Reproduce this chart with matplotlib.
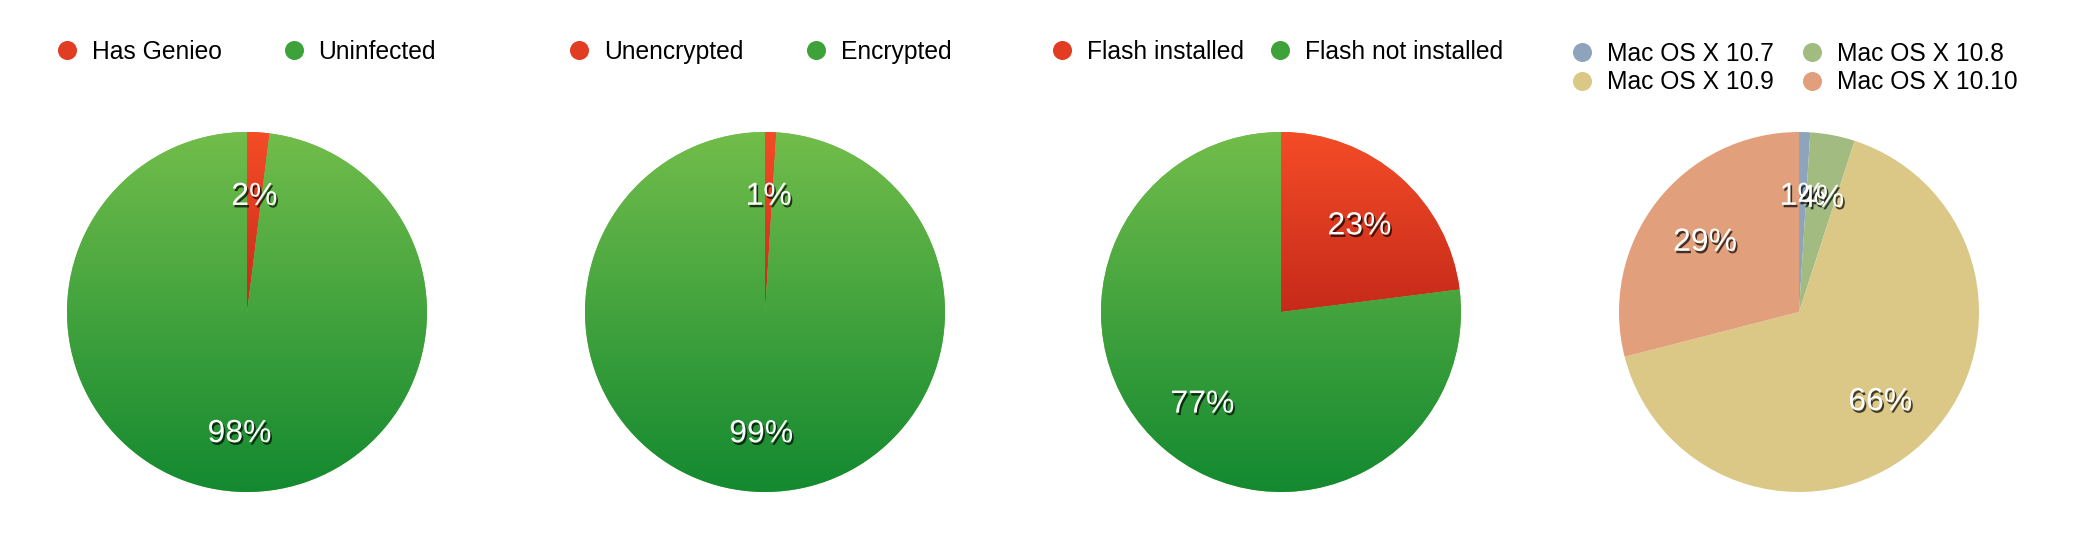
import matplotlib
matplotlib.use("Agg")
import matplotlib.pyplot as plt
import matplotlib.patheffects as pe
from matplotlib.colors import LinearSegmentedColormap
from matplotlib.lines import Line2D
import numpy as np

plt.rcParams['font.family'] = ['Liberation Sans', 'DejaVu Sans']

# data
genieo_labels = ["Has Genieo", "Uninfected"]
genieo_values = [2, 98]
encrypt_labels = ["Unencrypted", "Encrypted"]
encrypt_values = [1, 99]
flash_labels = ["Flash installed", "Flash not installed"]
flash_values = [23, 77]
os_labels = ["Mac OS X 10.7", "Mac OS X 10.8", "Mac OS X 10.9", "Mac OS X 10.10"]
os_values = [1, 4, 66, 29]

# styles
red_grad = ("#f44c27", "#c62a1a")     # top, bottom
green_grad = ("#72bd4b", "#138930")
red_mid, green_mid = "#e23c22", "#3ea23a"
os_colors = ["#8ea4bd", "#a1bb80", "#dbc887", "#e1a07b"]

W, H = 2074, 552
fig = plt.figure(figsize=(W / 100, H / 100), dpi=100)

centers_x = [247, 765, 1281, 1799]
center_y = 312
radius_px = 180
legend_x = [55, 567, 1050, 1570]
col_spacing = [2.4, 2.45, 0.95, 1.05]

charts = [
    (genieo_labels, genieo_values, [red_grad, green_grad]),
    (encrypt_labels, encrypt_values, [red_grad, green_grad]),
    (flash_labels, flash_values, [red_grad, green_grad]),
    (os_labels, os_values, None),
]

shadow = [pe.SimplePatchShadow(offset=(1.2, -1.8), shadow_rgbFace='black', alpha=0.7),
          pe.Normal()]

for i, (labels, values, grads) in enumerate(charts):
    cx = centers_x[i]
    ax = fig.add_axes([(cx - radius_px) / W, (H - center_y - radius_px) / H,
                       2 * radius_px / W, 2 * radius_px / H])
    base = [g[0] for g in grads] if grads else os_colors
    wedges, texts, autotexts = ax.pie(values, colors=base, startangle=90, counterclock=False,
                                      autopct=lambda p: f'{p:.0f}%', pctdistance=0.66,
                                      wedgeprops=dict(linewidth=0))
    if grads:
        for w, (top, bot) in zip(wedges, grads):
            v = w.get_path().vertices
            ymin, ymax = v[:, 1].min(), v[:, 1].max()
            cmap = LinearSegmentedColormap.from_list('g', [bot, top])
            grad = np.linspace(0, 1, 256).reshape(-1, 1)
            im = ax.imshow(grad, extent=(-1.05, 1.05, ymin, ymax), origin='lower',
                           cmap=cmap, aspect='auto', zorder=w.get_zorder() + 0.1)
            im.set_clip_path(w)
    for t in autotexts:
        t.set_color('white')
        t.set_fontsize(23)
        t.set_zorder(5)
        t.set_va('center_baseline')
        t.set_path_effects(shadow)
    ax.set_xlim(-1, 1)
    ax.set_ylim(-1, 1)
    ax.set_aspect('equal')
    ax.axis('off')

    lc = [red_mid, green_mid] if grads else os_colors
    handles = [Line2D([], [], marker='o', linestyle='none', markersize=13.7,
                      markerfacecolor=c, markeredgewidth=0) for c in lc]
    labs = list(labels)
    if len(labs) == 4:
        # row-wise order in a two-column legend
        order = [0, 2, 1, 3]
        handles = [handles[k] for k in order]
        labs = [labs[k] for k in order]
    ly = 52 if len(labs) == 2 else 68
    fig.legend(handles, labs, loc='center left',
               bbox_to_anchor=(legend_x[i] / W, 1 - ly / H), bbox_transform=fig.transFigure,
               ncol=2, frameon=False, fontsize=17.7, handlelength=1.0,
               handletextpad=0.52, columnspacing=col_spacing[i], borderpad=0,
               borderaxespad=0, labelspacing=0.2)

fig.savefig("out.png", dpi=100)
